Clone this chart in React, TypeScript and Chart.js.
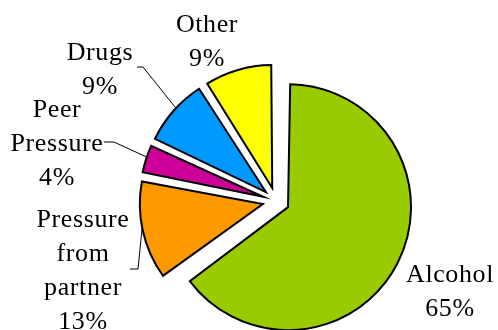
import React, { useEffect, useRef } from "react";
import { Chart, registerables } from "chart.js";

Chart.register(...registerables);

// ---- data ----
const categories = ["Alcohol", "Pressure from partner", "Peer Pressure", "Drugs", "Other"];
const values = [65, 13, 4, 9, 9];
const nameLines = [["Alcohol"], ["Pressure", "from", "partner"], ["Peer", "Pressure"], ["Drugs"], ["Other"]];
const colors = ["#99CC00", "#FF9900", "#CC0099", "#0099FF", "#FFFF00"];

// ---- layout (not data) ----
const RADIUS = 123;
const OFFSET = 54; // chart.js translates by offset/4
const FONT = '26px "Liberation Serif"';
const LINE_H = 34;
// label anchor (centre x, first baseline) relative to pie centre
const labelPos: [number, number][] = [
  [174, 81],
  [-193, 26],
  [-219, -84],
  [-176, -141],
  [-69, -169],
];
// leader lines: label-side points relative to pie centre, plus fraction along slice arc
const leaders: ({ pts: [number, number][]; frac: number } | null)[] = [
  null,
  { pts: [[-146, 68], [-138, 68]], frac: 0.53 },
  { pts: [[-172, -59], [-162, -59]], frac: 0.56 },
  { pts: [[-139, -134], [-133, -134]], frac: 0.55 },
  null,
];

const sliceLabels = {
  id: "sliceLabels",
  afterDatasetsUpdate(chart: any) {
    const meta = chart.getDatasetMeta(0);
    const off = OFFSET / 4;
    meta.data.forEach((el: any) => {
      const circ = el.endAngle - el.startAngle;
      const fix = 1 - Math.sin(Math.min(Math.PI, circ));
      el.outerRadius = RADIUS - off * fix;
    });
  },
  afterDatasetsDraw(chart: any) {
    const ctx = chart.ctx;
    const meta = chart.getDatasetMeta(0);
    const total = values.reduce((a, b) => a + b, 0);
    const off = OFFSET / 4;
    ctx.save();
    ctx.font = FONT;
    try {
      (ctx as any).letterSpacing = "0.6px";
    } catch (e) {}
    ctx.fillStyle = "#000";
    ctx.textAlign = "center";
    ctx.textBaseline = "alphabetic";
    ctx.strokeStyle = "#000";
    ctx.lineWidth = 1;
    meta.data.forEach((el: any, i: number) => {
      const cx = el.x;
      const cy = el.y;
      const lines = [...nameLines[i], Math.round((values[i] / total) * 100) + "%"];
      const [dx, dy] = labelPos[i];
      lines.forEach((t, k) => ctx.fillText(t, cx + dx, cy + dy + k * LINE_H));
      const ld = leaders[i];
      if (ld) {
        const mid = (el.startAngle + el.endAngle) / 2;
        const ax = cx + Math.cos(mid) * off;
        const ay = cy + Math.sin(mid) * off;
        const ang = el.startAngle + ld.frac * (el.endAngle - el.startAngle);
        ctx.beginPath();
        ld.pts.forEach(([px, py], k) => {
          if (k === 0) ctx.moveTo(cx + px, cy + py);
          else ctx.lineTo(cx + px, cy + py);
        });
        ctx.lineTo(ax + Math.cos(ang) * RADIUS, ay + Math.sin(ang) * RADIUS);
        ctx.stroke();
      }
    });
    ctx.restore();
  },
};

export default function App() {
  const ref = useRef<HTMLCanvasElement | null>(null);
  useEffect(() => {
    if (!ref.current) return;
    const chart = new Chart(ref.current, {
      type: "pie",
      data: {
        labels: categories,
        datasets: [
          {
            data: values,
            backgroundColor: colors,
            borderColor: "#000",
            borderWidth: 2,
            borderJoinStyle: "miter",
            offset: OFFSET,
            radius: RADIUS,
          } as any,
        ],
      },
      options: {
        responsive: false,
        animation: false,
        layout: { padding: { left: 54, right: 0, top: 72, bottom: 0 } },
        plugins: {
          legend: { display: false },
          tooltip: { enabled: false },
        },
      },
      plugins: [sliceLabels],
    });
    return () => chart.destroy();
  }, []);
  return (
    <div style={{ position: "fixed", left: 0, top: 0, width: 498, height: 330, background: "#fff" }}>
      <canvas ref={ref} width={498} height={330} style={{ display: "block" }} />
    </div>
  );
}
